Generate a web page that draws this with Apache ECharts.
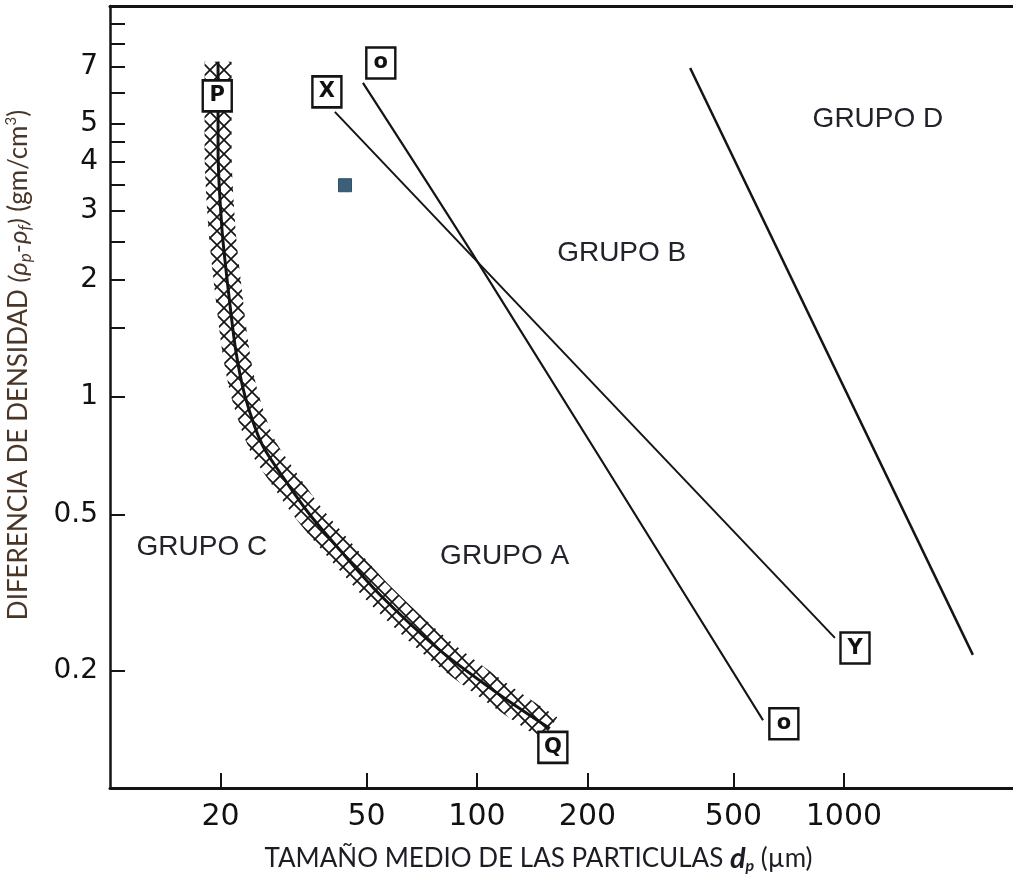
<!DOCTYPE html>
<html><head><meta charset="utf-8">
<script src="https://cdn.jsdelivr.net/npm/echarts@6/dist/echarts.min.js"></script>
<style>html,body{margin:0;padding:0;background:#fff;}#c{width:1013px;height:881px;}</style>
</head><body><div id="c"></div>
<script>
// ---- data (µm, g/cm³) ----
const xTicks = [20, 50, 100, 200, 500, 1000];
const yTicks = [9, 8, 7, 6, 5, 4.5, 4, 3.5, 3, 2.5, 2, 1.5, 1, 0.5, 0.2];
const yLabels = [7, 5, 4, 3, 2, 1, 0.5, 0.2];
const xRange = [10, 3000];
const yRange = [0.1, 10];

// boundary P–Q (C / A)
const pqX = [19.7, 19.7, 20.2, 21.0, 22.0, 23.3, 26.0, 30.0, 35.1, 42.3, 54.4, 79.3, 115.5, 158];
const pqY = [7.2, 4.3, 2.67, 1.88, 1.32, 1.01, 0.754, 0.613, 0.499, 0.406, 0.312, 0.225, 0.173, 0.142];
// line O–O
const ooX = [48.9, 100.6, 602];
const ooY = [6.36, 2.21, 0.149];
// line X–Y
const xyX = [41.0, 945];
const xyY = [5.36, 0.242];
// boundary B / D
const bdX = [381, 2246];
const bdY = [6.94, 0.219];

const boxNames = ['P', 'X', 'o', 'o', 'Y', 'Q'];
const boxX = [19.6, 39.0, 54.7, 686, 1072, 161];
const boxY = [5.89, 6.03, 7.15, 0.146, 0.228, 0.127];

const pointX = [43.7];
const pointY = [3.48];

const groupNames = ['GRUPO D', 'GRUPO B', 'GRUPO C', 'GRUPO A'];
const groupX = [1238, 248, 17.8, 119];
const groupY = [5.14, 2.33, 0.413, 0.392];

// ---- build ----
const L = Math.log10;
const pairs = (xs, ys) => xs.map((x, i) => [L(x), L(ys[i])]);
const fmt = v => String(parseFloat(Math.pow(10, v).toPrecision(3)));

const cv = document.createElement('canvas');
cv.width = 14; cv.height = 14;
const cx = cv.getContext('2d');
cx.strokeStyle = '#151515'; cx.lineWidth = 1.7;
cx.beginPath();
cx.moveTo(-2, -2); cx.lineTo(16, 16);
cx.moveTo(16, -2); cx.lineTo(-2, 16);
cx.stroke();

const ink = '#141414';
const titleInk = '#4a3628';
const chart = echarts.init(document.getElementById('c'), null, {renderer: 'canvas'});
chart.setOption({
  animation: false,
  backgroundColor: '#fff',
  grid: {left: 110, top: 6, width: 909, height: 782, containLabel: false, outerBoundsMode: 'none'},
  xAxis: [{
    type: 'value', min: L(xRange[0]), max: L(xRange[1]), position: 'bottom',
    axisLine: {show: true, onZero: false, lineStyle: {color: ink, width: 3}},
    axisTick: {show: true, inside: true, length: 15, customValues: xTicks.map(L), lineStyle: {color: ink, width: 2}},
    axisLabel: {customValues: xTicks.map(L), formatter: fmt, margin: 14, color: '#111', fontSize: 30, fontFamily: 'DejaVu Sans'},
    splitLine: {show: false},
    name: '{a|TAMAÑO MEDIO DE LAS PARTICULAS }{b|d}{s|p}{a| (µm)}',
    nameLocation: 'middle', nameGap: 56,
    nameTextStyle: {
      padding: [0, 52, 0, 0],
      rich: {
        a: {fontFamily: 'Lato', fontSize: 26, color: '#1c1c24', lineHeight: 30},
        b: {fontFamily: 'Lato', fontSize: 29, fontWeight: 'bold', fontStyle: 'italic', color: '#1c1c24'},
        s: {fontFamily: 'Lato', fontSize: 16, fontWeight: 'bold', fontStyle: 'italic', color: '#1c1c24', verticalAlign: 'bottom'}
      }
    }
  }, {
    type: 'value', min: L(xRange[0]), max: L(xRange[1]), position: 'top',
    axisLine: {show: true, onZero: false, lineStyle: {color: ink, width: 3}},
    axisTick: {show: false}, axisLabel: {show: false}, splitLine: {show: false}
  }],
  yAxis: {
    type: 'value', min: L(yRange[0]), max: L(yRange[1]),
    axisLine: {show: true, onZero: false, lineStyle: {color: ink, width: 2.5}},
    axisTick: {show: true, inside: true, length: 15, customValues: yTicks.map(L), lineStyle: {color: ink, width: 2}},
    axisLabel: {customValues: yLabels.map(L), formatter: fmt, margin: 12, color: '#111', fontSize: 28, fontFamily: 'DejaVu Sans'},
    splitLine: {show: false},
    name: '{a|DIFERENCIA DE DENSIDAD }{i|(ρ}{s|p}{i|-ρ}{s|f}{i|)}{a| (gm/cm}{u|3}{a|)}',
    nameLocation: 'middle', nameGap: 76, nameRotate: 90,
    nameTextStyle: {
      padding: [0, 0, 0, 64],
      rich: {
        a: {fontFamily: 'Lato', fontSize: 26, color: titleInk, lineHeight: 30},
        i: {fontFamily: 'Lato', fontSize: 26, fontStyle: 'italic', color: titleInk},
        s: {fontFamily: 'Lato', fontSize: 17, fontStyle: 'italic', color: titleInk, verticalAlign: 'bottom'},
        u: {fontFamily: 'Lato', fontSize: 15, color: titleInk, verticalAlign: 'top'}
      }
    }
  },
  series: [
    {type: 'line', data: pairs(pqX, pqY), smooth: 0.25, showSymbol: false, silent: true, z: 2,
     lineStyle: {width: 27, cap: 'butt', color: {image: cv, repeat: 'repeat'}}},
    {type: 'line', data: pairs(pqX, pqY), smooth: 0.25, showSymbol: false, silent: true, z: 3,
     lineStyle: {width: 3, color: ink}},
    {type: 'line', data: pairs(ooX, ooY), smooth: 0.3, showSymbol: false, silent: true, z: 3,
     lineStyle: {width: 2.2, color: ink}},
    {type: 'line', data: pairs(xyX, xyY), showSymbol: false, silent: true, z: 3,
     lineStyle: {width: 2, color: ink}},
    {type: 'line', data: pairs(bdX, bdY), showSymbol: false, silent: true, z: 3,
     lineStyle: {width: 2.5, color: ink}},
    {type: 'scatter', z: 6, silent: true, symbol: 'rect', symbolSize: [29, 31],
     itemStyle: {color: '#fff', borderColor: ink, borderWidth: 2.5, opacity: 1},
     label: {show: true, position: 'inside', formatter: '{b}', fontSize: 21, fontWeight: 'bold', fontFamily: 'DejaVu Sans', color: '#111'},
     data: boxNames.map((n, i) => ({name: n, value: [L(boxX[i]), L(boxY[i])]}))},
    {type: 'scatter', z: 6, silent: true, symbol: 'rect', symbolSize: 13,
     itemStyle: {color: '#3b607a', borderColor: '#2f4f66', borderWidth: 1, opacity: 1},
     data: pairs(pointX, pointY)},
    {type: 'scatter', z: 6, silent: true, symbolSize: 0,
     itemStyle: {opacity: 1},
     label: {show: true, position: 'inside', formatter: '{b}', fontSize: 28, fontFamily: 'Liberation Sans', color: '#22222a'},
     data: groupNames.map((n, i) => ({name: n, value: [L(groupX[i]), L(groupY[i])]}))}
  ]
});
</script>
</body></html>
